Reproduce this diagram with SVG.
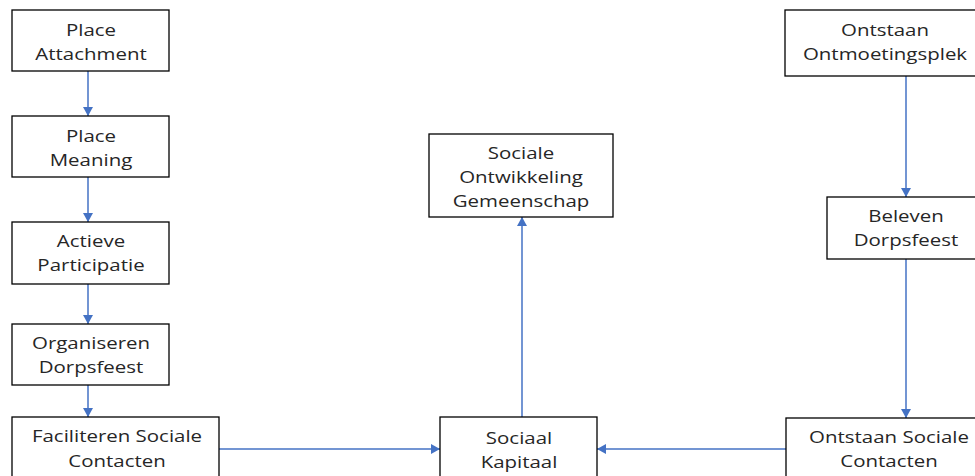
<svg xmlns="http://www.w3.org/2000/svg" width="975" height="476" viewBox="0 0 975 476">
<style>
.box{fill:#fff;stroke:#000;stroke-width:1.3}
.t{font-family:"Open Sans","Liberation Sans",sans-serif;font-size:16.5px;fill:#262626;text-anchor:middle}
.c{stroke:#4472C4;stroke-width:1.5;fill:none}
</style>
<defs>
<marker id="ah" markerWidth="10" markerHeight="11" refX="9" refY="5.5" orient="auto" markerUnits="userSpaceOnUse">
<path d="M0,0.5 L9,5.5 L0,10.5 Z" fill="#4472C4"/>
</marker>
</defs>
<rect width="975" height="476" fill="#fff"/>
<g id="connectors">
<line class="c" x1="88" y1="71" x2="88" y2="116" marker-end="url(#ah)"/>
<line class="c" x1="88" y1="177" x2="88" y2="222" marker-end="url(#ah)"/>
<line class="c" x1="88" y1="284" x2="88" y2="324" marker-end="url(#ah)"/>
<line class="c" x1="88" y1="385" x2="88" y2="417" marker-end="url(#ah)"/>
<line class="c" x1="219" y1="449" x2="440" y2="449" marker-end="url(#ah)"/>
<line class="c" x1="786" y1="449" x2="597" y2="449" marker-end="url(#ah)"/>
<line class="c" x1="522" y1="417" x2="522" y2="217" marker-end="url(#ah)"/>
<line class="c" x1="906" y1="76" x2="906" y2="197" marker-end="url(#ah)"/>
<line class="c" x1="906" y1="259" x2="906" y2="418" marker-end="url(#ah)"/>
</g>
<g id="place-attachment">
<rect class="box" x="12" y="10" width="157" height="61"/>
<g transform="translate(91 0) scale(1.24 1)"><text class="t" x="0" y="36">Place</text><text class="t" x="0" y="60">Attachment</text></g>
</g>
<g id="place-meaning">
<rect class="box" x="12" y="116" width="157" height="61"/>
<g transform="translate(91 0) scale(1.24 1)"><text class="t" x="0" y="142">Place</text><text class="t" x="0" y="166">Meaning</text></g>
</g>
<g id="actieve-participatie">
<rect class="box" x="12" y="222" width="157" height="62"/>
<g transform="translate(91 0) scale(1.24 1)"><text class="t" x="0" y="247">Actieve</text><text class="t" x="0" y="271">Participatie</text></g>
</g>
<g id="organiseren-dorpsfeest">
<rect class="box" x="12" y="324" width="157" height="61"/>
<g transform="translate(91 0) scale(1.24 1)"><text class="t" x="0" y="349">Organiseren</text><text class="t" x="0" y="373">Dorpsfeest</text></g>
</g>
<g id="faciliteren-sociale-contacten">
<rect class="box" x="12" y="417" width="207" height="70"/>
<g transform="translate(117 0) scale(1.24 1)"><text class="t" x="0" y="442">Faciliteren Sociale</text><text class="t" x="0" y="467">Contacten</text></g>
</g>
<g id="sociale-ontwikkeling-gemeenschap">
<rect class="box" x="429" y="134" width="184" height="83"/>
<g transform="translate(521 0) scale(1.24 1)"><text class="t" x="0" y="159">Sociale</text><text class="t" x="0" y="183">Ontwikkeling</text><text class="t" x="0" y="207">Gemeenschap</text></g>
</g>
<g id="sociaal-kapitaal">
<rect class="box" x="440" y="417" width="157" height="70"/>
<g transform="translate(519 0) scale(1.24 1)"><text class="t" x="0" y="444">Sociaal</text><text class="t" x="0" y="468">Kapitaal</text></g>
</g>
<g id="ontstaan-ontmoetingsplek">
<rect class="box" x="785" y="10" width="210" height="66"/>
<g transform="translate(885 0) scale(1.24 1)"><text class="t" x="0" y="36">Ontstaan</text><text class="t" x="0" y="60">Ontmoetingsplek</text></g>
</g>
<g id="beleven-dorpsfeest">
<rect class="box" x="827" y="197" width="158" height="62"/>
<g transform="translate(906 0) scale(1.24 1)"><text class="t" x="0" y="222">Beleven</text><text class="t" x="0" y="246">Dorpsfeest</text></g>
</g>
<g id="ontstaan-sociale-contacten">
<rect class="box" x="786" y="418" width="206" height="70"/>
<g transform="translate(889 0) scale(1.24 1)"><text class="t" x="0" y="443">Ontstaan Sociale</text><text class="t" x="0" y="467">Contacten</text></g>
</g>
</svg>
